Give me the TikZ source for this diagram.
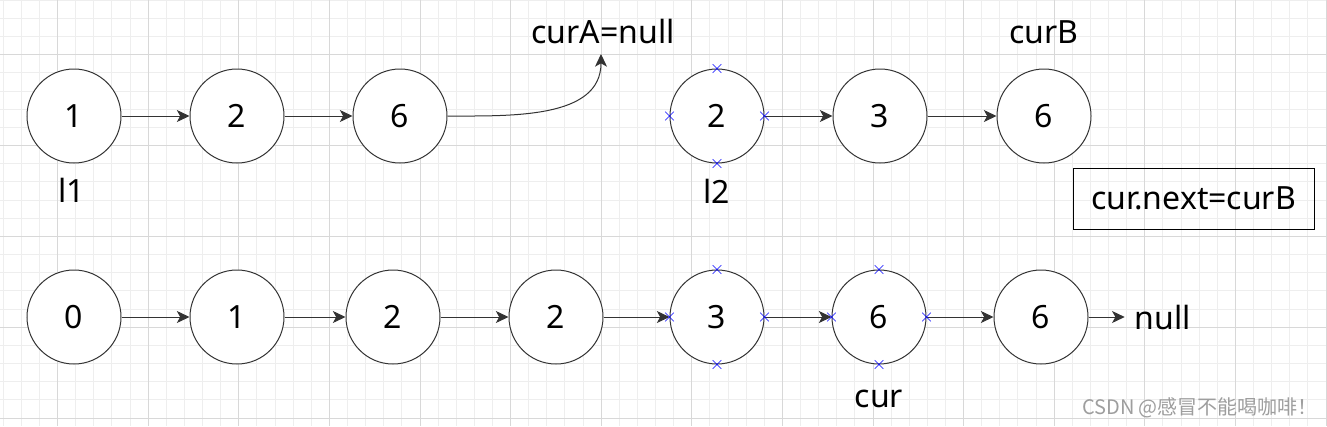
\documentclass[tikz,border=0pt]{standalone}
\usepackage{fontspec}
\setmainfont{Noto Sans}
\newfontfamily\cjkfont{Noto Sans CJK SC}
\usetikzlibrary{arrows.meta,shapes.misc}
\definecolor{gridminor}{RGB}{238,238,238}
\definecolor{gridmajor}{RGB}{216,216,216}
\definecolor{linedark}{RGB}{51,51,51}
\tikzset{
	listnode/.style={circle, draw=linedark, line width=0.75pt, fill=white, minimum size=70.5pt, inner sep=0pt, font=\fontsize{24}{28}\selectfont},
	plaintext/.style={font=\fontsize{24}{28}\selectfont, inner sep=0pt},
	ptr/.style={draw=linedark, line width=0.75pt, -{Stealth[length=9.5pt,width=9pt,inset=2.5pt]}},
	xpoint/.style={cross out, draw=blue, line width=0.45pt, minimum size=6pt, inner sep=0pt},
	minorgrid/.style={draw=gridminor, line width=0.75pt},
	majorgrid/.style={draw=gridmajor, line width=0.75pt},
}

\begin{document}
\begin{tikzpicture}[x=0.75pt, y=-0.75pt]
			%%%%% START %%%%%
			\useasboundingbox[fill=white] (0,0) rectangle (1327,426);
			
			% grid
			\foreach \k in {0,...,73} \draw[minorgrid] ({3.24+18.12*\k},0) -- ++(0,426);
			\foreach \k in {0,...,23} \draw[minorgrid] (0,{0.32+18.16*\k}) -- ++(1327,0);
			\foreach \k in {0,...,14} \draw[majorgrid] ({57.6+90.6*\k},0) -- ++(0,426);
			\foreach \k in {0,...,4} \draw[majorgrid] (0,{54.8+90.8*\k}) -- ++(1327,0);
			
			% l1
			\node[listnode] (a1) at (74, 116) {1};
			\node[listnode] (a2) at (237, 116) {2};
			\node[listnode] (a3) at (400, 116) {6};
			\node[plaintext] (l1) at (72, 190) {l1};
			\node[plaintext] (curA) at (603, 31) {curA=null};
			\coordinate (endA) at (601, 54);
			
			\draw[ptr] (a1) -- (a2);
			\draw[ptr] (a2) -- (a3);
			\draw[ptr] (a3.east) to[out=0, in=-90] (endA);
			
			% l2
			\node[listnode] (b1) at (717, 116) {2};
			\node[listnode] (b2) at (880, 116) {3};
			\node[listnode] (b3) at (1044, 116) {6};
			\node[plaintext] (l2) at (717, 191) {l2};
			\node[plaintext] (curB) at (1044, 32) {curB};
			
			\draw[ptr] (b1) -- (b2);
			\draw[ptr] (b2) -- (b3);
			
			\node[draw=black, line width=0.75pt, minimum width=180.75pt, minimum height=45.75pt, font=\fontsize{24}{28}\selectfont] (step) at (1193.5, 198.5) {cur.next=curB};
			
			% merged list
			\node[listnode] (c0) at (74, 317) {0};
			\node[listnode] (c1) at (237, 317) {1};
			\node[listnode] (c2) at (393, 317) {2};
			\node[listnode] (c3) at (556, 317) {2};
			\node[listnode] (c4) at (717, 317) {3};
			\node[listnode] (c5) at (879, 317) {6};
			\node[listnode] (c6) at (1041, 317) {6};
			\node[plaintext] (nullC) at (1163, 317) {null};
			\node[plaintext] (cur) at (879, 399) {cur};
			
			\draw[ptr] (c0) -- (c1);
			\draw[ptr] (c1) -- (c2);
			\draw[ptr] (c2) -- (c3);
			\draw[ptr] (c3) -- (c4);
			\draw[ptr] (c4) -- (c5);
			\draw[ptr] (c5) -- (c6);
			\draw[ptr] (c6.east) -- ([xshift=-7.5pt]nullC.west);
			
			% selection marks
			\foreach \n in {b1,c4,c5}
				\foreach \a in {north,south,east,west}
					\node[xpoint] (\n-\a) at (\n.\a) {};
			
			\node[text=black!38, font=\cjkfont\fontsize{15}{18}\selectfont] (mark) at (1200, 408) {CSDN @感冒不能喝咖啡！};
			
			%%%%% END %%%%%
		\end{tikzpicture}
\end{document}
